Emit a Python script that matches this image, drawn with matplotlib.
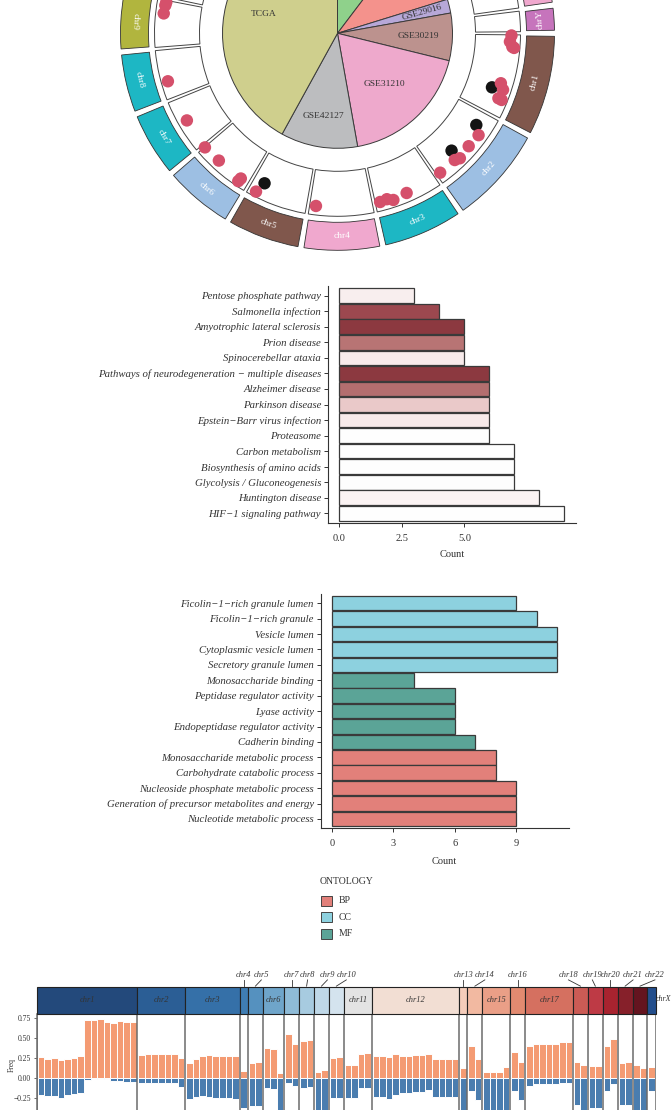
import numpy as np
import matplotlib
matplotlib.use('Agg')
import matplotlib.pyplot as plt
from matplotlib.patches import Wedge, Rectangle

plt.rcParams['font.family'] = ['Liberation Serif', 'DejaVu Serif']

W, H = 672, 1110

# ---------------- data ----------------
# pie of datasets (sample counts), clockwise from 12 o'clock
pie_names = ['GSE50081', 'GSE13213', 'GSE29016', 'GSE30219', 'GSE31210', 'GSE42127', 'TCGA']
pie_counts = [127, 122, 24, 82, 226, 133, 517]

chroms = ['chr1', 'chr2', 'chr3', 'chr4', 'chr5', 'chr6', 'chr7', 'chr8', 'chr9', 'chr10',
          'chr11', 'chr12', 'chr13', 'chr14', 'chr15', 'chr16', 'chr17', 'chr18', 'chr19',
          'chr20', 'chr21', 'chr22', 'chrX', 'chrY']
chrom_len = [249.3, 243.2, 198.0, 191.2, 180.9, 171.1, 159.1, 146.4, 141.2, 135.5, 135.0,
             133.9, 115.2, 107.3, 102.5, 90.4, 81.2, 78.1, 59.1, 63.0, 48.1, 51.3, 155.3, 59.4]

# genes on the circos track (chromosome, Mb, score)
dot_chrom = ['chr1', 'chr1', 'chr1', 'chr1', 'chr1', 'chr1', 'chr1', 'chr1', 'chr1',
             'chr2', 'chr2', 'chr2', 'chr2', 'chr2', 'chr2', 'chr2',
             'chr3', 'chr3', 'chr3', 'chr3', 'chr4', 'chr5', 'chr5',
             'chr6', 'chr6', 'chr6', 'chr6', 'chr7', 'chr8', 'chr9', 'chr9', 'chr9', 'chr10']
dot_pos = [2, 21, 36, 39, 152, 169, 173, 198, 199,
           45, 67, 112, 157, 159, 172, 231,
           98, 143, 161, 183, 172, 145, 157,
           26, 28, 112, 170, 88, 51, 101, 126, 136, 8]
dot_score = [0.80, 0.77, 0.83, 0.87, 0.73, 0.82, 0.57, 0.79, 0.87,
             0.63, 0.80, 0.78, 0.82, 0.57, 0.77, 0.78,
             0.80, 0.84, 0.78, 0.80, 0.80, 0.64, 0.89,
             0.81, 0.89, 0.80, 0.82, 0.80, 0.85, 0.82, 0.81, 0.80, 0.80]
dot_kind = ['up', 'up', 'up', 'up', 'up', 'up', 'down', 'up', 'up',
            'down', 'up', 'up', 'up', 'down', 'up', 'up',
            'up', 'up', 'up', 'up', 'up', 'down', 'up',
            'up', 'up', 'up', 'up', 'up', 'up', 'up', 'up', 'up', 'up']

# KEGG enrichment (top to bottom)
kegg_terms = ['Pentose phosphate pathway', 'Salmonella infection', 'Amyotrophic lateral sclerosis',
              'Prion disease', 'Spinocerebellar ataxia',
              'Pathways of neurodegeneration \u2212 multiple diseases', 'Alzheimer disease',
              'Parkinson disease', 'Epstein\u2212Barr virus infection', 'Proteasome',
              'Carbon metabolism', 'Biosynthesis of amino acids', 'Glycolysis / Gluconeogenesis',
              'Huntington disease', 'HIF\u22121 signaling pathway']
kegg_count = [3, 4, 5, 5, 5, 6, 6, 6, 6, 6, 7, 7, 7, 8, 9]
kegg_colors = ['#F8EEEE', '#9C484F', '#8C3940', '#B87474', '#F8EBEB', '#8C3940', '#B36E6F',
               '#EAC9C9', '#F8EAEA', '#FEFEFE', '#FEFEFE', '#FEFEFE', '#FDFDFD', '#FBF3F3', '#FEFEFE']

# GO enrichment (top to bottom)
go_terms = ['Ficolin\u22121\u2212rich granule lumen', 'Ficolin\u22121\u2212rich granule', 'Vesicle lumen',
            'Cytoplasmic vesicle lumen', 'Secretory granule lumen', 'Monosaccharide binding',
            'Peptidase regulator activity', 'Lyase activity', 'Endopeptidase regulator activity',
            'Cadherin binding', 'Monosaccharide metabolic process', 'Carbohydrate catabolic process',
            'Nucleoside phosphate metabolic process', 'Generation of precursor metabolites and energy',
            'Nucleotide metabolic process']
go_count = [9, 10, 11, 11, 11, 4, 6, 6, 6, 7, 8, 8, 9, 9, 9]
go_onto = ['CC', 'CC', 'CC', 'CC', 'CC', 'MF', 'MF', 'MF', 'MF', 'MF', 'BP', 'BP', 'BP', 'BP', 'BP']
onto_levels = ['BP', 'CC', 'MF']
onto_colors = {'BP': '#E2807A', 'CC': '#8DD1DF', 'MF': '#5BA497'}

# CNV gain / loss frequency per chromosome segment
cnv_chroms = ['chr1', 'chr2', 'chr3', 'chr4', 'chr5', 'chr6', 'chr7', 'chr8', 'chr9', 'chr10',
              'chr11', 'chr12', 'chr13', 'chr14', 'chr15', 'chr16', 'chr17', 'chr18', 'chr19',
              'chr20', 'chr21', 'chr22', 'chrX']
cnv_gain = [
    [0.254, 0.233, 0.242, 0.22, 0.233, 0.25, 0.27, 0.72, 0.72, 0.733, 0.70, 0.69, 0.71, 0.70, 0.695],
    [0.29, 0.296, 0.292, 0.292, 0.292, 0.296, 0.246],
    [0.19, 0.24, 0.27, 0.283, 0.27, 0.27, 0.27, 0.27],
    [0.083],
    [0.19, 0.20],
    [0.37, 0.36, 0.063],
    [0.55, 0.42],
    [0.46, 0.47],
    [0.075, 0.096],
    [0.25, 0.255],
    [0.16, 0.16, 0.30, 0.31],
    [0.275, 0.275, 0.26, 0.30, 0.27, 0.27, 0.28, 0.28, 0.30, 0.23, 0.23, 0.23, 0.24],
    [0.125],
    [0.40, 0.24],
    [0.067, 0.075, 0.075, 0.13],
    [0.32, 0.20],
    [0.40, 0.42, 0.42, 0.42, 0.42, 0.445, 0.45],
    [0.196, 0.154],
    [0.146, 0.146],
    [0.40, 0.48],
    [0.19, 0.196],
    [0.154, 0.125],
    [0.13],
]
cnv_loss = [
    [-0.217, -0.23, -0.23, -0.246, -0.217, -0.204, -0.19, -0.03, -0.02, -0.02, -0.02, -0.037, -0.037, -0.05, -0.05],
    [-0.07, -0.06, -0.06, -0.063, -0.063, -0.06, -0.12],
    [-0.267, -0.237, -0.225, -0.237, -0.25, -0.25, -0.25, -0.258],
    [-0.37],
    [-0.355, -0.345],
    [-0.125, -0.133, -0.48],
    [-0.06, -0.10],
    [-0.125, -0.11],
    [-0.46, -0.46],
    [-0.25, -0.25],
    [-0.25, -0.25, -0.13, -0.125],
    [-0.245, -0.245, -0.26, -0.22, -0.195, -0.195, -0.18, -0.18, -0.155, -0.245, -0.245, -0.245, -0.24],
    [-0.47],
    [-0.16, -0.28],
    [-0.46, -0.46, -0.46, -0.46],
    [-0.16, -0.28],
    [-0.10, -0.08, -0.08, -0.08, -0.08, -0.06, -0.06],
    [-0.34, -0.40],
    [-0.37, -0.37],
    [-0.16, -0.08],
    [-0.34, -0.34],
    [-0.40, -0.46],
    [-0.165],
]

# ---------------- styles ----------------
ring_colors = ['#80574C', '#9DBFE3', '#1DB7C4', '#F0A8CE', '#80574C', '#9DBFE3', '#1DB7C4',
               '#1DB7C4', '#B1B53E', '#8FD18B', '#F4928C', '#B7A8D8', '#80574C', '#9DBFE3',
               '#1DB7C4', '#F0A8CE', '#B1B53E', '#80574C', '#9DBFE3', '#1DB7C4', '#B1B53E',
               '#8FD18B', '#F0A8CE', '#C674BC']
pie_colors = ['#8FD18B', '#F4928C', '#B7A8D8', '#BC928E', '#EEA9CC', '#BCBDBF', '#CFCF8D']
pie_label_r = [0.7, 0.7, 0.76, 0.70, 0.60, 0.73, 0.66]
band_colors = ['#23497B', '#2B5E95', '#3570A8', '#3F7DB3', '#5591BF', '#6FA5CA', '#8EBBD7',
               '#A7CBE0', '#BFD8E8', '#D4E3EE', '#E3E3E3', '#F2DED3', '#F4CCBA', '#F2B9A1',
               '#EA9F87', '#E28A70', '#D57060', '#CB5B55', '#BE3A45', '#A8232F', '#86202A',
               '#64141F', '#234E8C']
band_label_dx = [0, 0, 0, 0, 6, 0, 0, 1, 6, 10, 0, 0, 0, 10, 0, 0, 0, -12, -3, 0, 8, 15, 0]

txt = '#333333'


def px_axes(x0, y0, x1, y1):
    return fig.add_axes([x0 / W, 1 - y1 / H, (x1 - x0) / W, (y1 - y0) / H])


fig = plt.figure(figsize=(W / 100, H / 100), dpi=100)

# ================= circos panel =================
cx, cy, half = 337.5, 33.3, 230
ax1 = px_axes(cx - half, cy - half, cx + half, cy + half)

wedges, _ = ax1.pie(pie_counts, colors=pie_colors, startangle=90, counterclock=False,
                    radius=115, wedgeprops=dict(edgecolor='#3a3a3a', linewidth=0.7))
for w, name, rf in zip(wedges, pie_names, pie_label_r):
    mid = np.deg2rad((w.theta1 + w.theta2) / 2)
    ty = 115 * rf * np.sin(mid)
    if cy - ty < 2:
        continue  # label lies above the cropped top edge
    rot = 0
    if w.theta2 - w.theta1 < 10:
        rot = np.rad2deg(mid) + 2
    ax1.text(115 * rf * np.cos(mid), ty, name, ha='center', va='center',
             fontsize=6.8, color=txt, rotation=rot, rotation_mode='anchor')

gap = 1.0
scale = (360 - gap * len(chroms)) / sum(chrom_len)
chr_start = {}
a = gap / 2
for c, L in zip(chroms, chrom_len):
    chr_start[c] = a
    a += L * scale + gap

r_tin, r_tout = 138, 183
r_rin, r_rout = 189, 217
for c, L, col in zip(chroms, chrom_len, ring_colors):
    s = chr_start[c]
    e = s + L * scale
    ax1.add_patch(Wedge((0, 0), r_tout, -e, -s, width=r_tout - r_tin, facecolor='white',
                        edgecolor='#444444', linewidth=0.7))
    ax1.add_patch(Wedge((0, 0), r_rout, -e + 0.3, -s - 0.3, width=r_rout - r_rin, facecolor=col,
                        edgecolor='#333333', linewidth=0.6))
    mid = -(s + e) / 2
    rm = (r_rin + r_rout) / 2
    ty = rm * np.sin(np.deg2rad(mid))
    if cy - ty < 12:
        continue  # label lies above the cropped top edge
    ax1.text(rm * np.cos(np.deg2rad(mid)), ty, c, color='white',
             fontsize=6.8, ha='center', va='center', rotation=mid + 90, rotation_mode='anchor')

dot_ang = np.array([chr_start[c] + p * scale for c, p in zip(dot_chrom, dot_pos)])
dot_r = r_tin + np.array(dot_score) * (r_tout - r_tin)
dot_col = ['#D5506B' if k == 'up' else '#141414' for k in dot_kind]
order = np.argsort([0 if k == 'down' else 1 for k in dot_kind])
ax1.scatter(dot_r[order] * np.cos(np.deg2rad(-dot_ang[order])),
            dot_r[order] * np.sin(np.deg2rad(-dot_ang[order])),
            s=80, c=[dot_col[i] for i in order], linewidths=0, zorder=5)
ax1.set_xlim(-half, half)
ax1.set_ylim(-half, half)
ax1.axis('off')

# ================= KEGG bars =================
ax2 = px_axes(328, 286.4, 575.7, 522.6)
y = np.arange(len(kegg_terms))
ax2.barh(y, kegg_count, height=0.94, color=kegg_colors, edgecolor='#3a3a3a', linewidth=0.9)
ax2.set_xlim(-0.45, 9.45)
ax2.set_ylim(len(kegg_terms) - 0.4, -0.6)
ax2.set_yticks(y)
ax2.set_yticklabels(kegg_terms, fontstyle='italic', fontsize=7.75, color=txt)
ax2.set_xticks([0, 2.5, 5.0])
ax2.set_xticklabels(['0.0', '2.5', '5.0'], fontsize=7.5, color=txt)
ax2.set_xlabel('Count', fontsize=7.5, color=txt, labelpad=5)

# ================= GO bars =================
ax3 = px_axes(320.7, 594, 568.5, 828.2)
y = np.arange(len(go_terms))
ax3.barh(y, go_count, height=0.94, color=[onto_colors[o] for o in go_onto],
         edgecolor='#3a3a3a', linewidth=0.9)
ax3.set_xlim(-0.55, 11.55)
ax3.set_ylim(len(go_terms) - 0.4, -0.6)
ax3.set_yticks(y)
ax3.set_yticklabels(go_terms, fontstyle='italic', fontsize=7.75, color=txt)
ax3.set_xticks([0, 3, 6, 9])
ax3.tick_params(axis='x', labelsize=7.5, labelcolor=txt)
ax3.set_xlabel('Count', fontsize=7.5, color=txt, labelpad=6)

for ax in (ax2, ax3):
    for sp in ('top', 'right'):
        ax.spines[sp].set_visible(False)
    for sp in ('left', 'bottom'):
        ax.spines[sp].set_color('#333333')
        ax.spines[sp].set_linewidth(0.8)
    ax.tick_params(length=3, width=0.7, color='#333333', pad=2)
    ax.tick_params(axis='x', pad=5)

# legend
axl = px_axes(310, 870, 420, 945)
axl.set_xlim(310, 420)
axl.set_ylim(945, 870)
axl.axis('off')
axl.text(320, 882, 'ONTOLOGY', fontsize=7, color=txt, va='center', ha='left')
for i, o in enumerate(onto_levels):
    yc = 900.7 + i * 16.6
    axl.add_patch(Rectangle((321, yc - 5), 10.5, 10, facecolor=onto_colors[o],
                            edgecolor='#444444', linewidth=0.7))
    axl.text(339, yc, o, fontsize=7, color=txt, va='center', ha='left')

# ================= CNV frequency panel =================
pad = 0.13
starts, bar_x = [], []
xx = 0.0
for g in cnv_gain:
    starts.append(xx)
    bar_x.append(xx + pad + 0.5 + np.arange(len(g)))
    xx += len(g) + 2 * pad
total = xx
starts.append(total)

x_left, x_right = 37, 655.7
ax4 = px_axes(x_left, 1014, x_right, 1142)
for bx, g, l in zip(bar_x, cnv_gain, cnv_loss):
    ax4.bar(bx, g, width=1.0, color='#F49B73', edgecolor='white', linewidth=0.7)
    ax4.bar(bx, l, width=1.0, color='#4A7DAF', edgecolor='white', linewidth=0.7)
for s in starts:
    ax4.axvline(s, color='#6b6b6b', linewidth=1.1)
ax4.set_xlim(0, total)
ax4.set_ylim(-0.8, 0.796)
ax4.set_xticks([])
ax4.set_yticks([0.75, 0.5, 0.25, 0.0, -0.25])
ax4.set_yticklabels(['0.75', '0.50', '0.25', '0.00', '\u22120.25'], fontsize=5.5, color=txt)
ax4.tick_params(axis='y', length=2.5, width=0.6, color='#555555', pad=2)
for sp in ('top', 'right', 'bottom'):
    ax4.spines[sp].set_visible(False)
ax4.spines['left'].set_color('#6b6b6b')
ax4.spines['left'].set_linewidth(1.1)
fig.text(12 / W, 1 - 1065 / H, 'Freq', rotation=90, fontsize=5.5, color=txt, ha='center', va='center')

axh = px_axes(x_left, 986.7, x_right, 1014)
axh.set_xlim(0, total)
axh.set_ylim(0, 1)
axh.axis('off')
px_per_unit = (x_right - x_left) / total
for i, (c, col) in enumerate(zip(cnv_chroms, band_colors)):
    s, e = starts[i], starts[i + 1]
    axh.add_patch(Rectangle((s, 0), e - s, 1, facecolor=col, edgecolor='#222222', linewidth=0.8,
                            clip_on=False))
    n = len(cnv_gain[i])
    mid = (s + e) / 2
    if c == 'chrX':
        axh.text(e + 0.05, 0.55, c, fontsize=5.8, fontstyle='italic', color=txt, ha='left',
                 va='center', clip_on=False)
    elif n >= 3:
        axh.text(mid, 0.5, c, fontsize=6, fontstyle='italic', color=txt, ha='center', va='center')
    else:
        lx = mid + band_label_dx[i] / px_per_unit
        axh.text(lx, 1.3, c, fontsize=6, fontstyle='italic', color=txt, ha='center',
                 va='bottom', clip_on=False)
        axh.plot([lx, mid], [1.25, 1.02], color='#333333', linewidth=0.6, clip_on=False)

fig.savefig('out.png', dpi=100)
